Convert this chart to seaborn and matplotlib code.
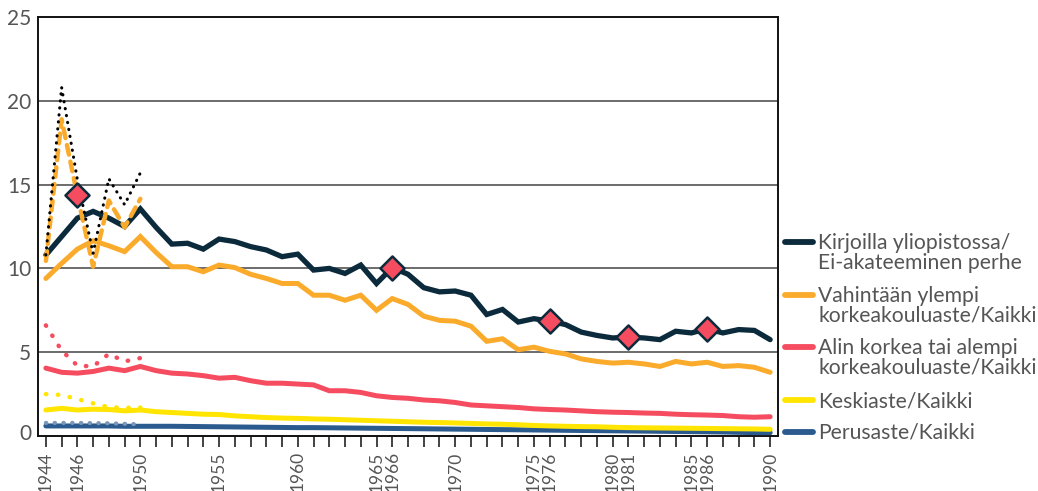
import matplotlib
matplotlib.use("Agg")
import matplotlib.pyplot as plt
import matplotlib.transforms as mtransforms
from matplotlib.lines import Line2D
import seaborn as sns
import pandas as pd

# ---------------- data ----------------
years = list(range(1944, 1991))

navy_vals = [10.8, 11.9, 13.0, 13.4, 13.0, 12.5, 13.55, 12.45, 11.45, 11.5,
             11.15, 11.75, 11.6, 11.3, 11.1, 10.7, 10.85, 9.9, 10.0, 9.7,
             10.2, 9.1, 10.05, 9.65, 8.85, 8.6, 8.65, 8.4, 7.25, 7.55,
             6.8, 7.0, 6.85, 6.65, 6.2, 6.0, 5.85, 5.9, 5.85, 5.75,
             6.25, 6.15, 6.4, 6.15, 6.35, 6.3, 5.75]
orange_vals = [9.4, 10.3, 11.15, 11.65, 11.35, 11.0, 11.9, 10.95, 10.1, 10.1,
               9.8, 10.2, 10.05, 9.65, 9.4, 9.1, 9.1, 8.4, 8.4, 8.1,
               8.4, 7.5, 8.2, 7.85, 7.15, 6.9, 6.85, 6.55, 5.65, 5.8,
               5.15, 5.3, 5.05, 4.9, 4.6, 4.45, 4.35, 4.4, 4.3, 4.15,
               4.45, 4.3, 4.4, 4.15, 4.2, 4.1, 3.8]
red_vals = [4.05, 3.8, 3.75, 3.85, 4.05, 3.9, 4.15, 3.9, 3.75, 3.7,
            3.6, 3.45, 3.5, 3.3, 3.15, 3.15, 3.1, 3.05, 2.7, 2.7,
            2.6, 2.4, 2.3, 2.25, 2.15, 2.1, 2.0, 1.85, 1.8, 1.75,
            1.7, 1.62, 1.58, 1.55, 1.5, 1.45, 1.42, 1.4, 1.37, 1.35,
            1.3, 1.27, 1.25, 1.22, 1.15, 1.12, 1.15]
yellow_vals = [1.55, 1.65, 1.55, 1.6, 1.58, 1.5, 1.55, 1.45, 1.4, 1.35,
               1.3, 1.28, 1.2, 1.15, 1.1, 1.07, 1.05, 1.02, 1.0, 0.97,
               0.94, 0.91, 0.88, 0.85, 0.82, 0.8, 0.78, 0.75, 0.72, 0.7,
               0.67, 0.63, 0.6, 0.58, 0.56, 0.55, 0.52, 0.5, 0.49, 0.48,
               0.47, 0.46, 0.45, 0.44, 0.43, 0.42, 0.4]
blue_vals = [0.6, 0.6, 0.6, 0.6, 0.6, 0.58, 0.58, 0.58, 0.58, 0.57,
             0.56, 0.55, 0.54, 0.53, 0.52, 0.51, 0.5, 0.5, 0.49, 0.48,
             0.47, 0.46, 0.45, 0.44, 0.43, 0.42, 0.41, 0.4, 0.39, 0.38,
             0.37, 0.36, 0.35, 0.34, 0.33, 0.32, 0.31, 0.3, 0.29, 0.28,
             0.27, 0.26, 0.25, 0.24, 0.22, 0.2, 0.2]

early_years = [1944, 1945, 1946, 1947, 1948, 1949, 1950]
black_early = [10.8, 20.8, 15.3, 10.9, 15.35, 13.8, 15.7]
orange_early = [10.45, 18.9, 14.35, 10.1, 14.05, 12.45, 14.15]
red_early = [6.6, 5.1, 4.2, 4.15, 4.9, 4.45, 4.65]
yellow_early = [2.5, 2.45, 2.2, 1.95, 1.72, 1.68, 1.7]
blue_early = [0.78, 0.78, 0.78, 0.77, 0.76, 0.73, 0.7]

marker_years = [1946, 1966, 1976, 1981, 1986]
marker_vals = [14.35, 10.05, 6.85, 5.9, 6.4]

labeled_years = [1944, 1946, 1950, 1955, 1960, 1965, 1966, 1970, 1975, 1976,
                 1980, 1981, 1985, 1986, 1990]

series_labels = [
    "Kirjoilla yliopistossa/\nEi-akateeminen perhe",
    "Vahintään ylempi\nkorkeakouluaste/Kaikki",
    "Alin korkea tai alempi\nkorkeakouluaste/Kaikki",
    "Keskiaste/Kaikki",
    "Perusaste/Kaikki",
]

# ---------------- style ----------------
sns.set_style("white")
plt.rcParams["font.family"] = ["Lato", "DejaVu Sans"]

NAVY = "#0b2a3b"
ORANGE = "#fbab2c"
RED = "#f54c60"
YELLOW = "#ffe500"
BLUE = "#2a5a8e"
colors = [NAVY, ORANGE, RED, YELLOW, BLUE]
TEXT = "#555555"

fig = plt.figure(figsize=(10.38, 4.91), dpi=100)
ax = fig.add_axes([38 / 1038, 1 - 436 / 491, 740 / 1038, 419 / 491])

main = pd.DataFrame({"year": years, "navy": navy_vals, "orange": orange_vals,
                     "red": red_vals, "yellow": yellow_vals, "blue": blue_vals})
early = pd.DataFrame({"year": early_years, "black": black_early, "orange": orange_early,
                      "red": red_early, "yellow": yellow_early, "blue": blue_early})

# solid series (draw lower ones first)
for col, c, lw in [("blue", BLUE, 3.6), ("yellow", YELLOW, 3.6), ("red", RED, 3.6),
                   ("orange", ORANGE, 3.6), ("navy", NAVY, 3.8)]:
    sns.lineplot(data=main, x="year", y=col, color=c, lw=lw, ax=ax,
                 solid_capstyle="round", solid_joinstyle="miter", zorder=3)

# early dotted / dashed series
sns.lineplot(data=early, x="year", y="blue", color="#7c97b8", lw=3.0, ax=ax,
             linestyle=(0, (0.1, 2.0)), dash_capstyle="round", zorder=4)
sns.lineplot(data=early, x="year", y="yellow", color=YELLOW, lw=3.2, ax=ax,
             linestyle=(0, (0.1, 2.6)), dash_capstyle="round", zorder=4)
sns.lineplot(data=early, x="year", y="red", color=RED, lw=3.2, ax=ax,
             linestyle=(0, (0.1, 2.6)), dash_capstyle="round", zorder=4)
sns.lineplot(data=early, x="year", y="orange", color=ORANGE, lw=3.2, ax=ax,
             linestyle=(0, (2.2, 1.6)), dash_capstyle="round", zorder=4)
sns.lineplot(data=early, x="year", y="black", color="#000000", lw=2.2, ax=ax,
             linestyle=(0, (0.1, 2.2)), dash_capstyle="round", zorder=5)

# diamond markers
sns.scatterplot(x=marker_years, y=marker_vals, marker="D", s=150, color=RED,
                edgecolor=NAVY, linewidth=1.8, ax=ax, zorder=6)

# ---------------- axes ----------------
ax.set_xlim(1943.5, 1990.5)
ax.set_ylim(0, 25)
ax.set_yticks([0, 5, 10, 15, 20, 25])
ax.set_xticks(years)
ax.set_xticklabels([str(y) if y in labeled_years else "" for y in years],
                   rotation=90, fontsize=12.5, color=TEXT)
ax.tick_params(axis="x", direction="out", length=8, width=1.2, color="#222222",
               pad=3, bottom=True)
ax.tick_params(axis="y", length=0, labelsize=15, labelcolor=TEXT, pad=5)
ax.set_xlabel("")
ax.set_ylabel("")
# raise the "0" label slightly like the reference
zero_lab = ax.get_yticklabels()[0]
zero_lab.set_transform(zero_lab.get_transform() +
                       mtransforms.ScaledTranslation(0, 4 / 100, fig.dpi_scale_trans))
for y in [5, 10, 15, 20]:
    ax.axhline(y, color="#444444", lw=1.1, zorder=1)
for s in ax.spines.values():
    s.set_visible(True)
    s.set_color("#111111")
    s.set_linewidth(1.4)

# ---------------- legend (manual) ----------------
handle_y = [241.7, 295.0, 346.7, 400.0, 431.7]
W, H = 1038, 491
for lab, c, hy in zip(series_labels, colors, handle_y):
    fy = 1 - hy / H
    fig.add_artist(Line2D([785 / W, 813 / W], [fy, fy], color=c, lw=4.2,
                          solid_capstyle="round", transform=fig.transFigure))
    for i, line in enumerate(lab.split("\n")):
        fig.text(818 / W, 1 - (hy + 7 + 20 * i) / H, line, fontsize=15.2,
                 color=TEXT, va="baseline", ha="left")

fig.savefig("out.png", dpi=100)
